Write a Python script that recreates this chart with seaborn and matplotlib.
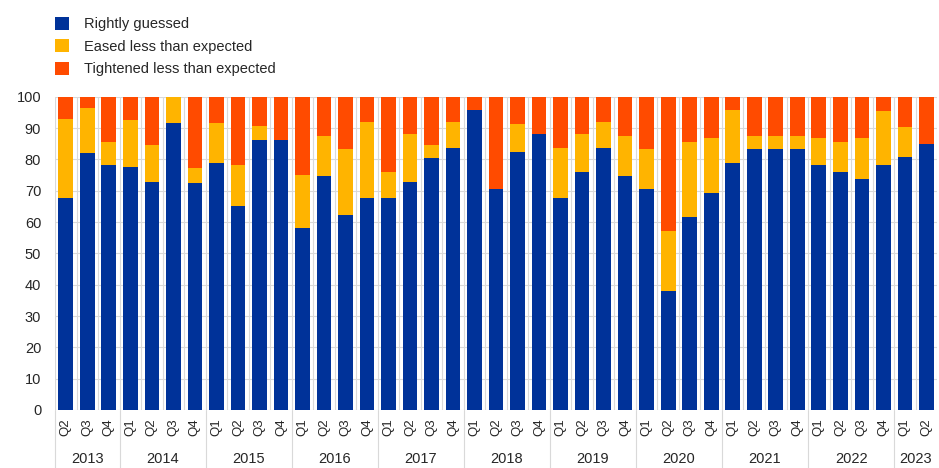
import matplotlib.pyplot as plt
import matplotlib.transforms as mtransforms
import numpy as np
import pandas as pd
import seaborn as sns

years = ['2013', '2014', '2015', '2016', '2017', '2018', '2019', '2020', '2021', '2022', '2023']
quarters_per_year = [['Q2', 'Q3', 'Q4']] + [['Q1', 'Q2', 'Q3', 'Q4']] * 9 + [['Q1', 'Q2']]

rightly = [67.7, 82.0, 78.4, 77.7, 72.9, 91.8, 72.6, 79.0, 65.0, 86.2, 86.3,
           58.1, 74.8, 62.2, 67.8, 67.8, 72.9, 80.6, 83.7, 95.7, 70.6, 82.4,
           88.0, 67.8, 75.9, 83.8, 74.8, 70.5, 37.9, 61.7, 69.4, 79.0, 83.2,
           83.2, 83.2, 78.1, 76.0, 73.7, 78.1, 80.9, 84.8]
eased = [25.1, 14.4, 7.1, 14.9, 11.6, 8.2, 4.6, 12.6, 13.2, 4.5, 0.0,
         16.8, 12.6, 21.1, 24.1, 8.2, 15.4, 3.9, 8.2, 0.0, 0.0, 8.9,
         0.0, 16.0, 12.1, 8.1, 12.6, 12.8, 19.2, 23.8, 17.4, 16.7, 4.2,
         4.2, 4.2, 8.7, 9.5, 13.1, 17.4, 9.4, 0.0]
tightened = [7.2, 3.6, 14.5, 7.4, 15.5, 0.0, 22.8, 8.4, 21.8, 9.3, 13.7,
             25.1, 12.6, 16.7, 8.1, 24.0, 11.7, 15.5, 8.1, 4.3, 29.4, 8.7,
             12.0, 16.2, 12.0, 8.1, 12.6, 16.7, 42.9, 14.5, 13.2, 4.3, 12.6,
             12.6, 12.6, 13.2, 14.5, 13.2, 4.5, 9.7, 15.2]

labels = ['Rightly guessed', 'Eased less than expected', 'Tightened less than expected']
colors = ['#003299', '#FFB400', '#FF4B00']

periods = []
qlabels = []
for y, qs in zip(years, quarters_per_year):
    for q in qs:
        periods.append(y + ' ' + q)
        qlabels.append(q)

df = pd.DataFrame({'period': periods, 'rightly': rightly, 'eased': eased, 'tightened': tightened})
df['mid'] = df['rightly'] + df['eased']
df['top'] = df['mid'] + df['tightened']

sns.set_style('white')
plt.rcParams['font.family'] = ['Liberation Sans', 'DejaVu Sans']

fig = plt.figure(figsize=(9.39, 4.68), dpi=100)
ax = fig.add_axes([0.0586, 0.124, 0.9394, 0.669])

# stacked by overdrawing cumulative heights, back to front
for col, c, lab in zip(['top', 'mid', 'rightly'], colors[::-1], labels[::-1]):
    sns.barplot(data=df, x='period', y=col, order=periods, color=c, width=0.68,
                linewidth=0, saturation=1, label=lab, ax=ax, zorder=3)

handles, labs = ax.get_legend_handles_labels()
if ax.get_legend() is not None:
    ax.get_legend().remove()

n = len(periods)
ax.set_xlim(-0.5, n - 0.5)
ax.set_ylim(0, 100)
ax.set_yticks(range(0, 101, 10))
ax.set_xticks(range(n))
ax.set_xticklabels(qlabels, rotation=90, fontsize=9.5)
ax.set_xticks(np.arange(-0.5, n), minor=True)
ax.tick_params(axis='y', labelsize=10.5, length=0, pad=10)
ax.tick_params(axis='x', which='both', length=0, pad=6)
ax.set_xlabel('')
ax.set_ylabel('')
ax.grid(axis='y', which='major', color='#d9d9d9', lw=0.8, zorder=0)
ax.grid(axis='x', which='minor', color='#d9d9d9', lw=0.8, zorder=0)
ax.grid(axis='x', which='major', visible=False)
for s in ax.spines.values():
    s.set_visible(False)

# year separators and labels below the axis
trans = mtransforms.blended_transform_factory(ax.transData, ax.transAxes)
start = 0
bounds = [-0.5]
for y, qs in zip(years, quarters_per_year):
    end = start + len(qs)
    ax.text((start + end - 1) / 2, -0.157, y, transform=trans, ha='center', va='center', fontsize=10.5)
    bounds.append(end - 0.5)
    start = end
for b in bounds[:-1]:
    ax.plot([b, b], [0, -0.2], transform=trans, color='#d9d9d9', lw=0.8, clip_on=False)

order = [labs.index(l) for l in labels]
fig.legend([handles[i] for i in order], labels, loc='upper left', bbox_to_anchor=(0.052, 0.977),
           frameon=False, fontsize=10.5, handlelength=1.0, handleheight=1.0,
           handletextpad=1.0, labelspacing=0.55, borderaxespad=0)

fig.savefig('out.png', dpi=100)
